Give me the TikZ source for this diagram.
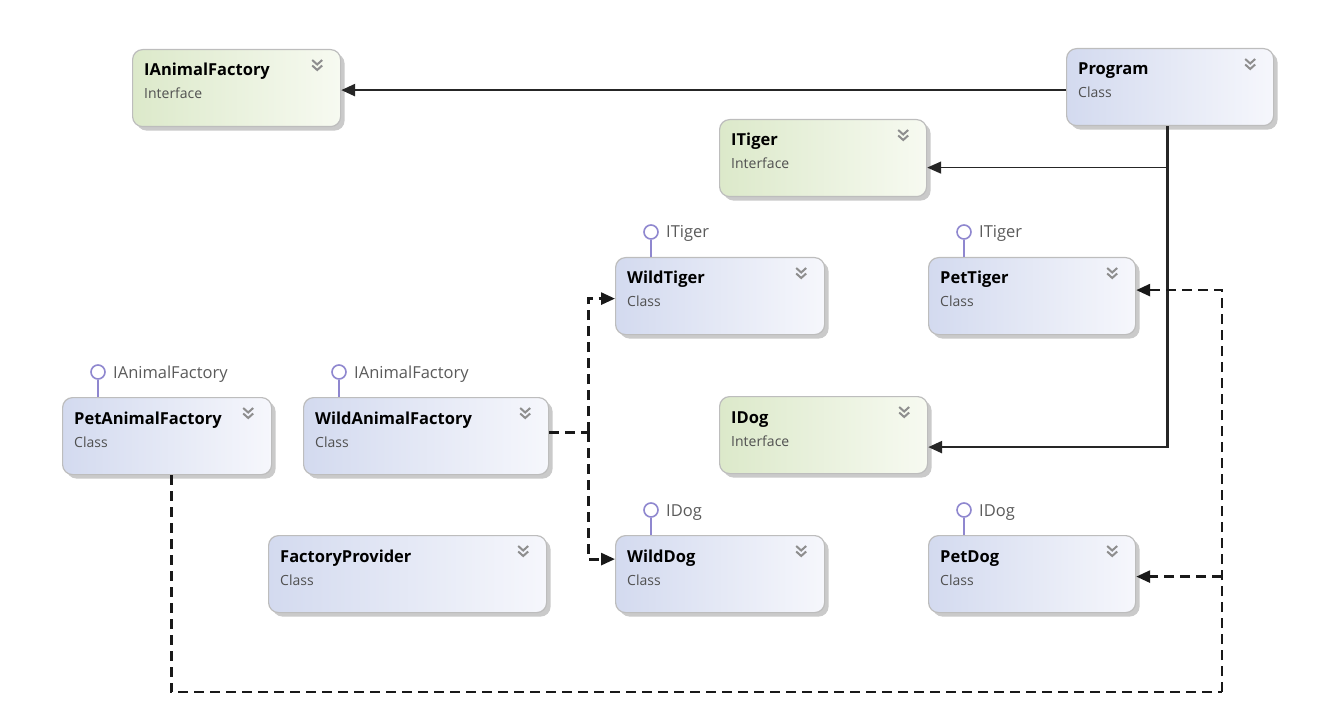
\documentclass[tikz,border=0pt]{standalone}
\usepackage{fontspec}
\setmainfont{Open Sans}
\usetikzlibrary{arrows.meta,shadows,calc}
\definecolor{clsL}{HTML}{D3DAEF}
\definecolor{clsR}{HTML}{F6F7FC}
\definecolor{ifL}{HTML}{DCE9CA}
\definecolor{ifR}{HTML}{F7FAF1}
\definecolor{boxborder}{HTML}{BDBDBD}
\definecolor{boxshadow}{HTML}{CACACA}
\definecolor{lollyc}{HTML}{8F87CF}
\definecolor{chevc}{HTML}{8E8E8E}
\definecolor{subgray}{HTML}{505050}
\definecolor{labgray}{HTML}{5A5A5A}
\tikzset{
  box/.style={draw=boxborder, line width=1.2pt, rounded corners=10pt, anchor=north west,
    minimum height=77pt, inner sep=0pt,
    drop shadow={shadow xshift=4pt, shadow yshift=-4pt, fill=boxshadow, opacity=1}},
  cls/.style={box, left color=clsL, right color=clsR},
  iface/.style={box, left color=ifL, right color=ifR},
  titletxt/.style={anchor=base west, font=\bfseries\fontsize{16.5}{16.5}\selectfont, text=black, inner sep=0pt},
  subtxt/.style={anchor=base west, font=\fontsize{14}{14}\selectfont, text=subgray, inner sep=0pt},
  labtxt/.style={anchor=base west, font=\fontsize{16.5}{16.5}\selectfont, text=labgray, inner sep=0pt},
  chev/.style={draw=chevc, line width=2pt},
  lollycirc/.style={circle, draw=lollyc, line width=1.6pt, fill=white, minimum size=14pt, inner sep=0pt},
  lollyline/.style={draw=lollyc, line width=1.6pt},
  assoc/.style={draw=black!85, line width=2.6pt, -{Triangle[length=14pt,width=12pt]}},
  dep/.style={draw=black!90, line width=2.8pt, dash pattern=on 10pt off 6pt},
  deparrow/.style={dep, -{Triangle[length=14pt,width=12pt]}},
}
\newcommand\umlbox[7]{%
  \node[#2, minimum width=#5pt] (#1) at (#3,#4) {};
  \node[titletxt] (#1-t) at ($(#1.north west)+(12,27)$) {#6};
  \node[subtxt] (#1-s) at ($(#1.north west)+(12,50)$) {#7};
  \draw[chev] ($(#1.north east)+(-29,11)$) -- ++(5,4.5) -- ++(5,-4.5);
  \draw[chev] ($(#1.north east)+(-29,16.5)$) -- ++(5,4.5) -- ++(5,-4.5);
}
\newcommand\lolly[2]{%
  \node[lollycirc] (#1-lc) at ($(#1.north west)+(36,-25)$) {};
  \draw[lollyline] (#1-lc.south) -- (#1-lc.south |- #1.north);
  \node[labtxt] (#1-ll) at ($(#1-lc.center)+(15,6)$) {#2};
}
\begin{document}
\begin{tikzpicture}[x=1pt,y=-1pt]
\useasboundingbox (0,0) rectangle (1340,708);
\umlbox{iaf}{iface}{132}{49}{208}{IAnimalFactory}{Interface}
\umlbox{program}{cls}{1066}{48}{207}{Program}{Class}
\umlbox{itiger}{iface}{719}{119}{207}{ITiger}{Interface}
\umlbox{wildtiger}{cls}{615}{257}{209}{WildTiger}{Class}
\umlbox{pettiger}{cls}{928}{257}{207}{PetTiger}{Class}
\umlbox{petaf}{cls}{62}{397}{209}{PetAnimalFactory}{Class}
\umlbox{wildaf}{cls}{303}{397}{245}{WildAnimalFactory}{Class}
\umlbox{idog}{iface}{719}{396}{208}{IDog}{Interface}
\umlbox{factprov}{cls}{268}{535}{278}{FactoryProvider}{Class}
\umlbox{wilddog}{cls}{615}{535}{209}{WildDog}{Class}
\umlbox{petdog}{cls}{928}{535}{207}{PetDog}{Class}
\lolly{wildtiger}{ITiger}
\lolly{pettiger}{ITiger}
\lolly{petaf}{IAnimalFactory}
\lolly{wildaf}{IAnimalFactory}
\lolly{wilddog}{IDog}
\lolly{petdog}{IDog}
% solid associations from Program
\coordinate (pw) at ($(program.west)+(0,3)$);
\draw[assoc] (pw) -- (pw -| iaf.east);
\draw[assoc] ($(program.south)+(-2.5,0)$) |- ($(idog.east)+(0,12)$);
\coordinate (pt) at ($(itiger.east)+(0,9.5)$);
\draw[assoc, line width=1.6pt] ($(program.south |- pt)+(-2.5,0)$) -- (pt);
% dashed dependencies from WildAnimalFactory
\coordinate (wj) at ($(wildaf.east)+(39,-4)$);
\draw[dep] ($(wildaf.east)+(0,-4)$) -- (wj);
\draw[deparrow] (wj) |- ($(wildtiger.west)+(0,2.5)$);
\draw[deparrow] (wj) |- ($(wilddog.west)+(0,-15)$);
% dashed dependencies from PetAnimalFactory
\coordinate (pr) at (1222,692);
\draw[dep] ($(petaf.south)+(4,0)$) |- (pr);
\draw[deparrow] (pr) |- ($(pettiger.east)+(0,-6)$);
\draw[deparrow] ($(pr |- petdog.east)+(0,2.5)$) -- ($(petdog.east)+(0,2.5)$);
\end{tikzpicture}
\end{document}
